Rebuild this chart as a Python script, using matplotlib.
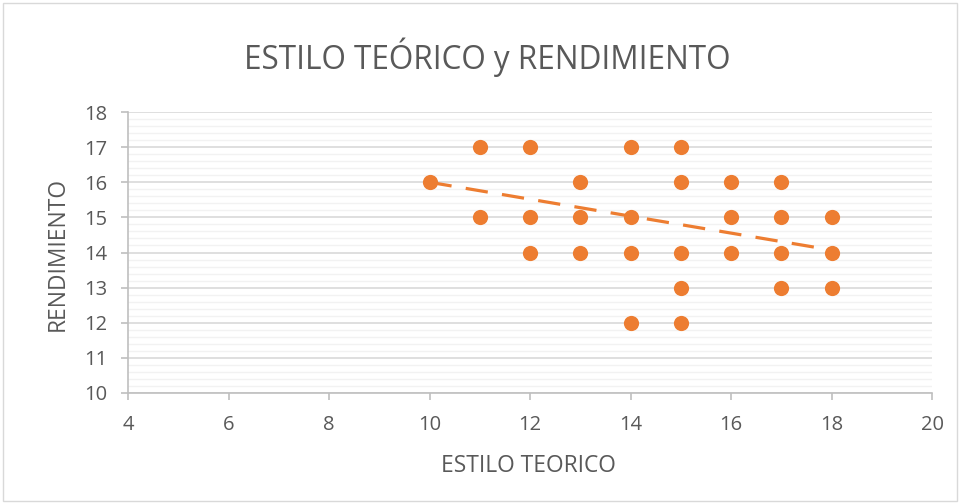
import matplotlib.pyplot as plt
import numpy as np
from matplotlib.patches import Rectangle

# data
estilo = [10, 11, 11, 12, 12, 12, 13, 13, 13, 14, 14, 14, 14,
          15, 15, 15, 15, 15, 16, 16, 16, 17, 17, 17, 17, 18, 18, 18]
rendimiento = [16, 17, 15, 17, 15, 14, 16, 15, 14, 17, 15, 14, 12,
               17, 16, 14, 13, 12, 16, 15, 14, 16, 15, 14, 13, 15, 14, 13]
# linear trendline as drawn (endpoints)
trend_x = [10, 18]
trend_y = [16.0, 14.07]

orange = '#ED7D31'
grey_text = '#595959'

plt.rcParams['font.family'] = ['Open Sans', 'DejaVu Sans']

fig = plt.figure(figsize=(9.6, 5.03), dpi=100)
ax = fig.add_axes([128/960, 1 - 393/503, (932-128)/960, (393-112)/503])

ax.plot(trend_x, trend_y, color=orange, lw=2.3, dashes=(7, 4.5),
        solid_capstyle='butt', dash_capstyle='butt', zorder=2)
ax.scatter(estilo, rendimiento, s=120, color=orange, zorder=3, linewidths=0)

ax.set_xlim(4, 20)
ax.set_ylim(10, 18)
ax.set_xticks(np.arange(4, 21, 2))
ax.set_yticks(np.arange(10, 19, 1))
ax.set_yticks(np.arange(10, 18.01, 0.2), minor=True)

ax.grid(axis='y', which='major', color='#D9D9D9', lw=1.2, zorder=0)
ax.grid(axis='y', which='minor', color='#F2F2F2', lw=1.0, zorder=0)
ax.set_axisbelow(True)

for s in ['top', 'right']:
    ax.spines[s].set_visible(False)
for s in ['left', 'bottom']:
    ax.spines[s].set_color('#BFBFBF')
    ax.spines[s].set_linewidth(1.2)

ax.tick_params(axis='both', which='major', length=5, width=1.2, color='#BFBFBF',
               labelcolor=grey_text, labelsize=14.5)
ax.tick_params(axis='y', which='minor', length=0)
ax.tick_params(axis='y', pad=10)
ax.tick_params(axis='x', pad=11)

fig.text(487/960, 1 - 69/503, 'ESTILO TEÓRICO y RENDIMIENTO', fontsize=22.7,
         color=grey_text, ha='center', va='baseline')
fig.text(528/960, 1 - 472/503, 'ESTILO TEORICO', fontsize=16.4,
         color=grey_text, ha='center', va='baseline')
fig.text(58/960, 1 - 254/503, 'RENDIMIENTO', fontsize=16.4, rotation=90,
         color=grey_text, ha='center', va='center')

fig.patches.append(Rectangle((3/960, 2/503), 954/960, 498/503, transform=fig.transFigure,
                             fill=False, edgecolor='#D9D9D9', lw=1))

fig.savefig('out.png', dpi=100)
